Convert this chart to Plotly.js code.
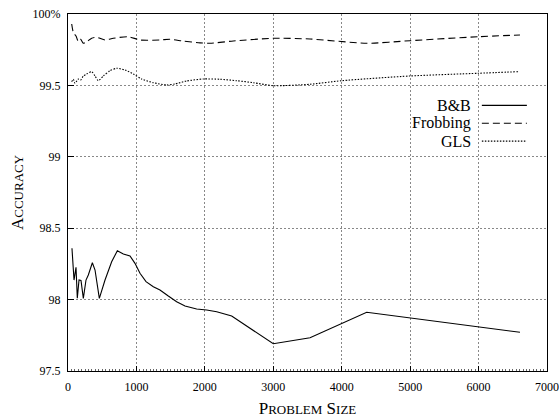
<!DOCTYPE html>
<html>
<head>
<meta charset="utf-8">
<script src="https://cdn.plot.ly/plotly-3.0.1.min.js"></script>
<style>html,body{margin:0;padding:0;background:#fff;}#chart{width:559px;height:418px;}</style>
</head>
<body>
<div id="chart"></div>
<script>
// Data
const bbX = [58, 88, 117, 136, 161, 190, 224, 263, 297, 356, 395, 458, 541, 638, 721, 809, 906, 979, 1052, 1140, 1247, 1344, 1466, 1588, 1710, 1880, 2026, 2173, 2392, 3000, 3537, 4365, 6605];
const bbY = [98.359, 98.137, 98.226, 98.009, 98.137, 98.134, 98.009, 98.137, 98.172, 98.258, 98.207, 98.009, 98.137, 98.265, 98.342, 98.319, 98.305, 98.254, 98.184, 98.126, 98.09, 98.067, 98.025, 97.985, 97.955, 97.934, 97.927, 97.915, 97.885, 97.691, 97.733, 97.911, 97.771];

const frX = [54, 78, 117, 151, 185, 224, 273, 346, 419, 541, 662, 881, 1052, 1344, 1491, 1685, 1929, 2075, 2416, 3000, 3537, 4365, 4998, 5996, 6605];
const frY = [99.93, 99.87, 99.846, 99.806, 99.823, 99.795, 99.806, 99.83, 99.837, 99.818, 99.83, 99.841, 99.818, 99.818, 99.823, 99.81, 99.798, 99.795, 99.811, 99.83, 99.825, 99.795, 99.813, 99.841, 99.853];

const glX = [54, 78, 102, 151, 185, 224, 273, 346, 395, 443, 516, 614, 711, 833, 955, 1076, 1247, 1442, 1564, 1734, 1978, 2221, 2465, 2709, 3000, 3537, 3999, 4998, 5996, 6580];
const glY = [99.526, 99.543, 99.515, 99.545, 99.538, 99.566, 99.58, 99.596, 99.566, 99.533, 99.566, 99.603, 99.62, 99.608, 99.58, 99.545, 99.519, 99.503, 99.51, 99.531, 99.545, 99.543, 99.533, 99.519, 99.498, 99.508, 99.533, 99.566, 99.585, 99.596];

const seriesNames = ['B&B', 'Frobbing', 'GLS'];
const seriesDash = ['solid', '7px,4px', '1.5px,1.5px'];

const xTicks = [0, 1000, 2000, 3000, 4000, 5000, 6000, 7000];
const yTicks = [97.5, 98, 98.5, 99, 99.5, 100];
const yTickText = ['97.5', '98', '98.5', '99', '99.5', '100%'];

const FONT = 'Liberation Serif, Times New Roman, serif';

const xs = [bbX, frX, glX];
const ys = [bbY, frY, glY];
const traces = xs.map((x, i) => ({
  x: x, y: ys[i], type: 'scatter', mode: 'lines', name: seriesNames[i],
  line: {color: '#000', width: 1.1, dash: seriesDash[i], shape: i === 0 ? 'linear' : 'spline', smoothing: 0.6},
  showlegend: false, hoverinfo: 'skip'
}));

// Legend: text right-aligned, sample line to the right (gnuplot style)
const annotations = [];
const shapes = [];
const legY = [0.744, 0.694, 0.644];
seriesNames.forEach((n, i) => {
  annotations.push({xref: 'paper', yref: 'paper', x: 0.843, y: legY[i], xanchor: 'right', yanchor: 'middle',
    text: n, showarrow: false, font: {family: FONT, size: 16, color: '#000'}, borderpad: 0});
  shapes.push({type: 'line', xref: 'paper', yref: 'paper', x0: 0.864, x1: 0.958, y0: legY[i], y1: legY[i],
    line: {color: '#000', width: 1.1, dash: seriesDash[i]}});
});

const layout = {
  width: 559, height: 418,
  margin: {l: 68, r: 12, t: 14, b: 47},
  paper_bgcolor: '#fff', plot_bgcolor: '#fff',
  font: {family: FONT, size: 12, color: '#000'},
  xaxis: {
    range: [0, 7000], tickvals: xTicks, ticktext: xTicks.map(String),
    showline: true, linecolor: '#000', linewidth: 1, mirror: true,
    ticks: 'inside', ticklen: 5, tickcolor: '#000', ticklabelstandoff: 5,
    showgrid: true, gridcolor: '#888', griddash: '2px,2px', gridwidth: 1,
    zeroline: false, tickfont: {family: FONT, size: 12},
    minor: {ticks: 'inside', ticklen: 2, dtick: 50, tickcolor: '#666', showgrid: false},
    title: {text: 'P<span style="font-size:13px">ROBLEM</span> S<span style="font-size:13px">IZE</span>', font: {family: FONT, size: 17}, standoff: 12}
  },
  yaxis: {
    range: [97.5, 100], tickvals: yTicks, ticktext: yTickText,
    showline: true, linecolor: '#000', linewidth: 1, mirror: true,
    ticks: 'inside', ticklen: 6, tickcolor: '#000', ticklabelstandoff: 4,
    showgrid: true, gridcolor: '#888', griddash: '2px,2px', gridwidth: 1,
    zeroline: false, tickfont: {family: FONT, size: 12},
    title: {text: 'A<span style="font-size:13px">CCURACY</span>', font: {family: FONT, size: 17}, standoff: 4}
  },
  annotations: annotations,
  shapes: shapes,
  showlegend: false
};

Plotly.newPlot('chart', traces, layout, {displayModeBar: false, staticPlot: true});
</script>
</body>
</html>
